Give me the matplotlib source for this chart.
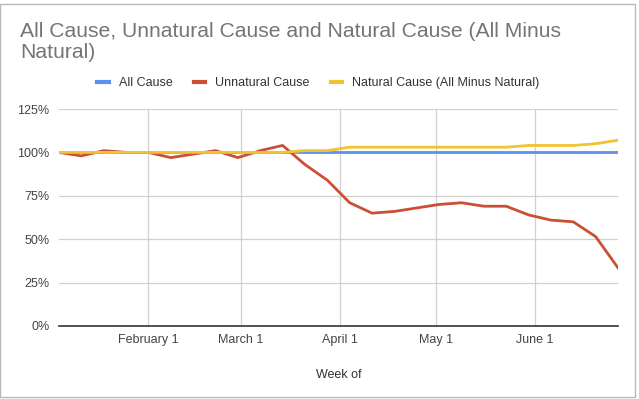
import numpy as np
import pandas as pd
import matplotlib.pyplot as plt
import matplotlib.dates as mdates
from matplotlib.ticker import FuncFormatter
from matplotlib.patches import Rectangle

plt.rcParams['font.family'] = ['Liberation Sans', 'DejaVu Sans']

# weekly data, week of Jan 4 2020 to Jun 27 2020
weeks = pd.date_range("2020-01-04", periods=26, freq="7D")
all_cause = [100] * 26
unnatural = [100, 98, 101, 100, 100, 97, 99, 101, 97, 101, 104, 93, 84,
             71, 65, 66, 68, 70, 71, 69, 69, 64, 61, 60, 51.5, 33.5]
natural = [100, 100, 100, 100, 100, 100, 100, 100, 100, 100, 100, 101, 101,
           103, 103, 103, 103, 103, 103, 103, 103, 104, 104, 104, 105, 107]
month_ticks = pd.to_datetime(["2020-02-01", "2020-03-01", "2020-04-01", "2020-05-01", "2020-06-01"])
month_labels = ["February 1", "March 1", "April 1", "May 1", "June 1"]

fig = plt.figure(figsize=(6.39, 3.99), dpi=100)
ax = fig.add_axes([59/639, 1 - 326/399, (618 - 59)/639, (326 - 109)/399])

ax.plot(weeks, all_cause, color="#5b8ff0", lw=2, label="All Cause")
ax.plot(weeks, unnatural, color="#cc4f33", lw=2, label="Unnatural Cause")
ax.plot(weeks, natural, color="#f1c232", lw=2, label="Natural Cause (All Minus Natural)")

ax.set_xlim(weeks[0], weeks[-1])
ax.set_ylim(0, 125)
ax.set_yticks([0, 25, 50, 75, 100, 125])
ax.yaxis.set_major_formatter(FuncFormatter(lambda v, p: f"{int(v)}%"))
ax.set_xticks(month_ticks)
ax.set_xticklabels(month_labels)
ax.tick_params(length=0, labelsize=9, labelcolor="#444444", pad=6)
ax.tick_params(axis="y", pad=7)
ax.grid(True, color="#d0d0d0", lw=0.9)
ax.set_axisbelow(True)
for s in ["top", "right", "left"]:
    ax.spines[s].set_visible(False)
ax.spines["bottom"].set_color("#333333")
ax.spines["bottom"].set_linewidth(1.2)
ax.set_xlabel("Week of", fontsize=9, color="#333333", labelpad=16)

fig.text(20/639, 1 - 22/399, "All Cause, Unnatural Cause and Natural Cause (All Minus\nNatural)",
         fontsize=15.2, color="#757575", va="top", ha="left", linespacing=1.15)

leg = fig.legend(loc="center", bbox_to_anchor=(0.498, 1 - 83/399), ncol=3, frameon=False,
                 fontsize=9, handlelength=0.9, handletextpad=0.8, columnspacing=1.7)
for t in leg.get_texts():
    t.set_color("#333333")
for h in leg.get_lines():
    h.set_linewidth(3)

# spreadsheet frame around the chart
fig.patches.append(Rectangle((0, 2/399), 635/639, 393/399, transform=fig.transFigure,
                             fill=False, edgecolor="#b8b8b8", lw=1))

fig.savefig("out.png", dpi=100)
